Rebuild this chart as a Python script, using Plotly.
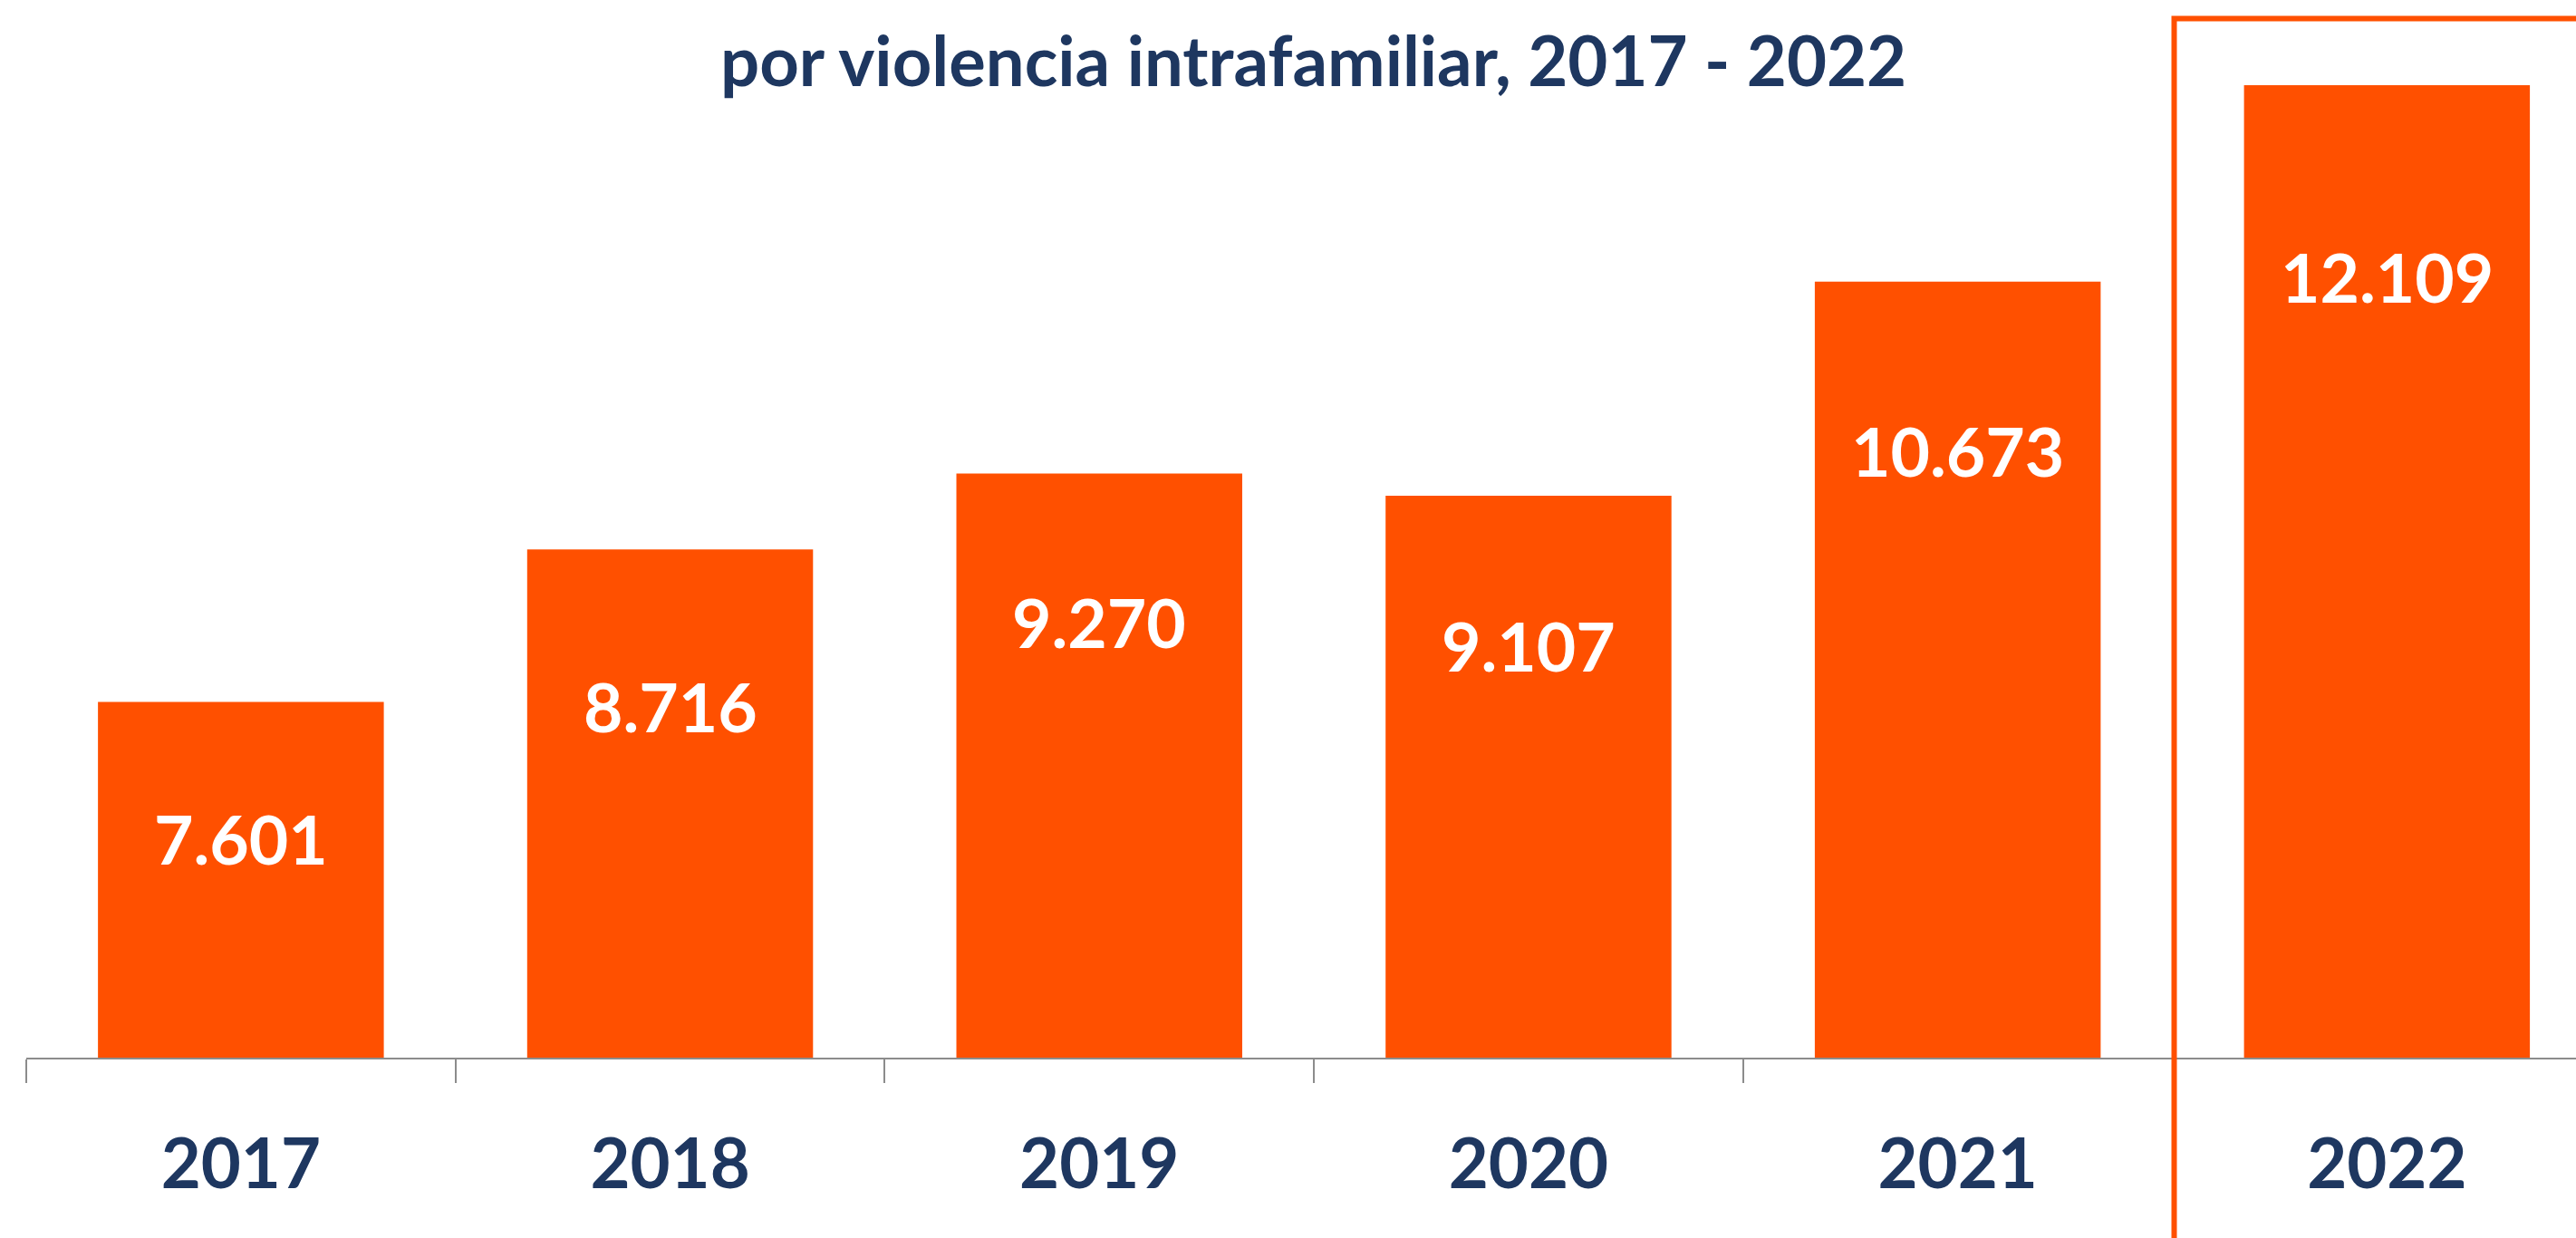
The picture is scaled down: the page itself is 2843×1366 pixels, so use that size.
import plotly.graph_objects as go

# Cases per year
years = ["2017", "2018", "2019", "2020", "2021", "2022"]
cases = [7601, 8716, 9270, 9107, 10673, 12109]

# Value label text (Spanish thousands separator)
value_labels = [f"{v:,}".replace(",", ".") for v in cases]

title_text = "por violencia intrafamiliar, 2017 - 2022"

ORANGE = "#FF5000"
NAVY = "#1E3760"
AXIS_GREY = "#8C8C8C"
FONT = "Lato"

# Figure geometry (px)
W, H = 2843, 1366
M_L, M_R, M_T, M_B = 29, 0, 35, 199
STEP = 473.7                       # px per category
Y_MIN, Y_MAX = 5000, 12500
plot_w = W - M_L - M_R
plot_h = H - M_T - M_B
x_range = [-0.5, -0.5 + plot_w / STEP]

# Vertical distance (px) from each bar top down to its value label centre
label_drop = [151, 173, 163, 165, 186, 211]

fig = go.Figure(
    go.Bar(
        x=years,
        y=cases,
        width=0.666,
        marker=dict(color=ORANGE, line=dict(width=0)),
        hoverinfo="skip",
    )
)

annotations = []
for i, (v, txt, d) in enumerate(zip(cases, value_labels, label_drop)):
    annotations.append(dict(
        x=i, y=v, xref="x", yref="y",
        text=f"<b>{txt}</b>", showarrow=False,
        yanchor="middle", xanchor="center", yshift=-d,
        font=dict(family=FONT, size=75, color="white"),
    ))

# Title line
title_x_px = 1449
annotations.append(dict(
    x=(title_x_px - M_L) / plot_w, y=(H - M_B - 66) / plot_h,
    xref="paper", yref="paper", text=f"<b>{title_text}</b>", showarrow=False,
    xanchor="center", yanchor="middle",
    font=dict(family=FONT, size=76, color=NAVY),
))

# Highlight frame around the latest year
def x_to_paper(xv):
    return (xv - x_range[0]) / (x_range[1] - x_range[0])

def px_to_paper_y(py):
    return (H - M_B - py) / plot_h

frame_left = len(years) - 1.5 + 2 / STEP
shapes = [dict(
    type="rect", xref="paper", yref="paper",
    x0=x_to_paper(frame_left), x1=1.2,
    y0=-0.6, y1=px_to_paper_y(20.5),
    line=dict(color=ORANGE, width=6), fillcolor="rgba(0,0,0,0)",
    layer="above",
)]

fig.update_layout(
    width=W, height=H,
    margin=dict(l=M_L, r=M_R, t=M_T, b=M_B, pad=0),
    paper_bgcolor="white", plot_bgcolor="white",
    showlegend=False,
    annotations=annotations,
    shapes=shapes,
    xaxis=dict(
        type="category",
        range=x_range,
        tickson="boundaries",
        ticks="outside", ticklen=26, tickwidth=2, tickcolor=AXIS_GREY,
        showline=True, linecolor=AXIS_GREY, linewidth=2,
        showgrid=False, zeroline=False,
        tickfont=dict(family=FONT, size=76, color=NAVY, weight="bold"),
        ticklabelstandoff=51,
        fixedrange=True,
    ),
    yaxis=dict(
        range=[Y_MIN, Y_MAX],
        visible=False, showgrid=False, zeroline=False,
        fixedrange=True,
    ),
)

fig.write_html("out.html", config={"displayModeBar": False})
